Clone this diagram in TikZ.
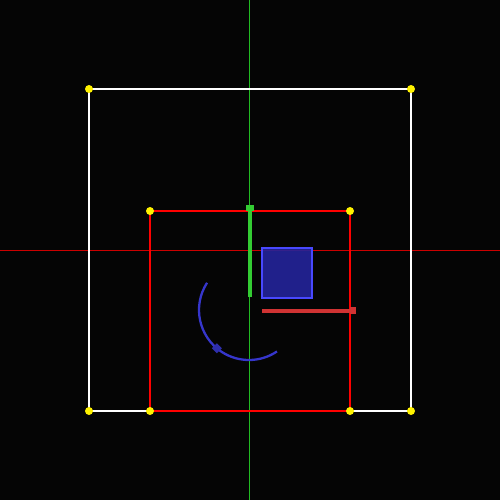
\documentclass[tikz,border=0pt]{standalone}
\usepackage{xcolor}
\usetikzlibrary{arrows.meta,calc}
\definecolor{axisred}{HTML}{CC0000}
\definecolor{axisgreen}{HTML}{22BB22}
\definecolor{handlegreen}{HTML}{33CC33}
\definecolor{handlered}{HTML}{D03333}
\definecolor{boxblue}{HTML}{24249A}
\definecolor{edgeblue}{HTML}{4848FF}
\definecolor{arcblue}{HTML}{3636CC}

\begin{document}
\begin{tikzpicture}[x=0.2mm,y=-0.2mm,
  frame/.style={draw,line width=1.1pt},
  axisline/.style={line width=0.55pt},
  handle/.style={line width=2.3pt},
  corner/.style={fill=yellow},
  knob/.style={inner sep=0pt,minimum size=1.4mm}]
\fill[black!98] (0,0) rectangle (500,500);
\useasboundingbox (0,0) rectangle (500,500);
% axes
\draw[axisline,axisred] (0,250) -- (500,250);
\draw[axisline,axisgreen] (249.5,0) -- (249.5,500);
% outer and inner frames
\coordinate (o1) at (89,89);  \coordinate (o2) at (411,89);
\coordinate (o3) at (411,411); \coordinate (o4) at (89,411);
\coordinate (i1) at (150,211); \coordinate (i2) at (350,211);
\coordinate (i3) at (350,411); \coordinate (i4) at (150,411);
\draw[frame,white] (o1) -- (o2) -- (o3) -- (o4) -- cycle;
\draw[frame,red] (i1) -- (i2) -- (i3) -- (i4) -- cycle;
\foreach \c in {o1,o2,o3,o4,i1,i2,i3,i4}
  \fill[corner] (\c) circle (0.8mm);
% handles
\coordinate (g0) at (250,297);
\coordinate (g1) at (250,211);
\draw[handle,handlegreen] (g0) -- (g1);
\node[knob,fill=handlegreen,minimum width=1.6mm,minimum height=1.2mm] (gk) at (250,208) {};
\coordinate (r0) at (262,311);
\coordinate (r1) at (350,311);
\draw[handle,handlered] (r0) -- (r1);
\node[knob,fill=handlered,minimum width=1.3mm,minimum height=1.5mm] (rk) at (353,310.5) {};
% box
\draw[edgeblue,line width=1.1pt,fill=boxblue,fill opacity=0.9] (262,248) rectangle (312,298);
% rotation arc
\coordinate (ac) at (249,310);
\draw[arcblue,line width=1.3pt] ($(ac)+(213:50)$) arc[start angle=213,end angle=56,radius=50];
\fill[arcblue!85!black] ($(ac)+(130:50)$) ++(-5,0) -- ++(5,-5) -- ++(5,5) -- ++(-5,5) -- cycle;
\end{tikzpicture}
\end{document}
